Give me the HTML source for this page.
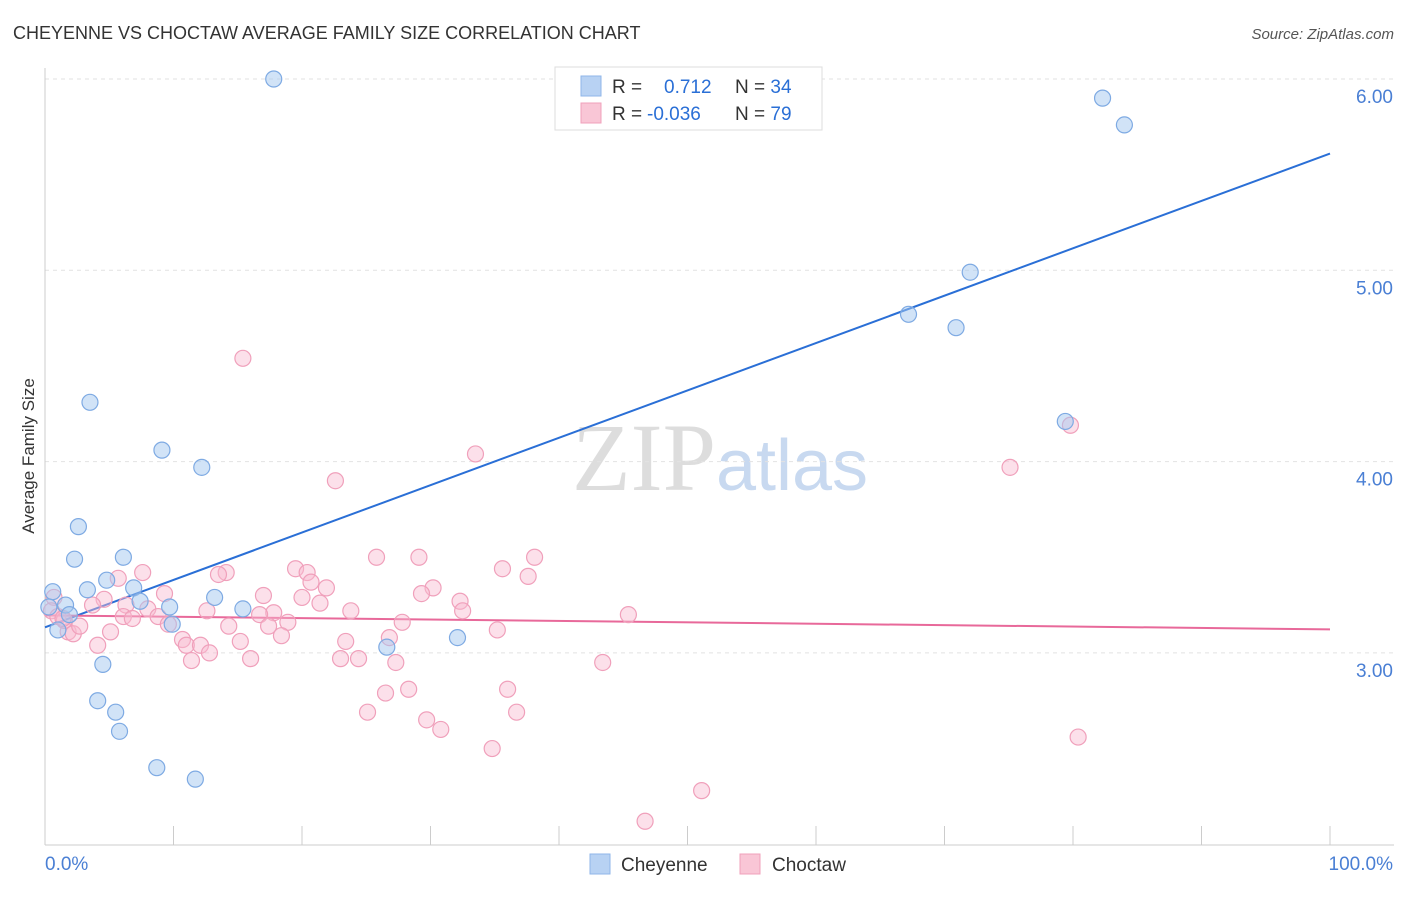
<!DOCTYPE html>
<html><head><meta charset="utf-8"><style>
body{margin:0;background:#fff;font-family:"Liberation Sans",sans-serif;}
</style></head><body>
<svg id="chart" width="1406" height="892" xmlns="http://www.w3.org/2000/svg" font-family="Liberation Sans, sans-serif">
<text x="13" y="39" font-size="18" fill="#333">CHEYENNE VS CHOCTAW AVERAGE FAMILY SIZE CORRELATION CHART</text>
<text x="1394" y="39" font-size="15" fill="#555" text-anchor="end" font-style="italic">Source: ZipAtlas.com</text>
<text x="720" y="490" font-size="96" text-anchor="middle" fill="#ddd" font-family="Liberation Serif, serif">ZIP<tspan fill="#c8d9f0" font-family="Liberation Sans, sans-serif" font-size="72">atlas</tspan></text>
<g id="grid"></g><g id="axes"></g><g id="lines"></g><g id="points"></g>
<text transform="translate(34,456) rotate(-90)" font-size="17" fill="#333" text-anchor="middle">Average Family Size</text>
<g>
<rect x="555" y="67" width="267" height="63" fill="#fff" stroke="#ddd"/>
<rect x="581" y="76" width="20" height="20" fill="#b8d2f3" stroke="#8fb6e8"/>
<rect x="581" y="103" width="20" height="20" fill="#f9c6d6" stroke="#f0a0bb"/>
<text x="612" y="93" font-size="19" fill="#333">R = <tspan fill="#2a6fd6" x="664">0.712</tspan><tspan x="735" fill="#333">N = </tspan><tspan fill="#2a6fd6">34</tspan></text>
<text x="612" y="120" font-size="19" fill="#333">R = <tspan fill="#2a6fd6" x="647">-0.036</tspan><tspan x="735" fill="#333">N = </tspan><tspan fill="#2a6fd6">79</tspan></text>
</g>
<g>
<rect x="590" y="854" width="20" height="20" fill="#b8d2f3" stroke="#8fb6e8"/>
<text x="621" y="871" font-size="19" fill="#333">Cheyenne</text>
<rect x="740" y="854" width="20" height="20" fill="#f9c6d6" stroke="#f0a0bb"/>
<text x="772" y="871" font-size="19" fill="#333">Choctaw</text>
</g>
</svg>
<script>
const yTicks=[3,4,5,6];
const yTickLabels=["3.00","4.00","5.00","6.00"];
const xTickLabels=["0.0%","100.0%"];
const cheyenneX=[17.8,82.3,84.0,72.0,67.2,70.9,79.4,3.5,9.1,12.2,2.6,2.3,6.1,0.6,3.3,4.8,6.9,7.4,9.7,13.2,15.4,1.6,1.9,1.0,0.3,9.9,26.6,32.1,4.5,4.1,5.5,5.8,8.7,11.7];
const cheyenneY=[6.00,5.90,5.76,4.99,4.77,4.70,4.21,4.31,4.06,3.97,3.66,3.49,3.50,3.32,3.33,3.38,3.34,3.27,3.24,3.29,3.23,3.25,3.20,3.12,3.24,3.15,3.03,3.08,2.94,2.75,2.69,2.59,2.40,2.34];
const choctawX=[15.4,33.5,22.6,79.8,75.1,25.8,29.1,38.1,35.6,37.6,19.5,20.4,14.1,13.5,7.6,5.7,20.7,21.9,30.2,29.3,17.0,20.0,9.3,4.6,3.7,0.7,0.5,21.4,23.8,32.3,32.5,45.4,12.6,17.8,6.3,6.1,8.0,6.8,8.8,9.6,14.3,16.7,18.9,27.8,17.4,35.2,5.1,1.8,2.2,2.7,1.0,18.4,26.8,23.4,10.7,11.0,12.1,15.2,4.1,12.8,11.4,16.0,23.0,24.4,27.3,43.4,28.3,26.5,36.0,25.1,29.7,36.7,30.8,34.8,80.4,51.1,46.7,1.5,1.4];
const choctawY=[4.54,4.04,3.90,4.19,3.97,3.50,3.50,3.50,3.44,3.40,3.44,3.42,3.42,3.41,3.42,3.39,3.37,3.34,3.34,3.31,3.30,3.29,3.31,3.28,3.25,3.29,3.22,3.26,3.22,3.27,3.22,3.20,3.22,3.21,3.25,3.19,3.23,3.18,3.19,3.15,3.14,3.20,3.16,3.16,3.14,3.12,3.11,3.11,3.10,3.14,3.19,3.09,3.08,3.06,3.07,3.04,3.04,3.06,3.04,3.00,2.96,2.97,2.97,2.97,2.95,2.95,2.81,2.79,2.81,2.69,2.65,2.69,2.60,2.50,2.56,2.28,2.12,3.17,3.18];
const NS="http://www.w3.org/2000/svg";
const X0=45,X1=1330,Y6=79,PU=191.3;
function sx(v){return X0+(X1-X0)*v/100;}
function sy(v){return Y6+(6-v)*PU;}
function mk(t,a,p){const e=document.createElementNS(NS,t);for(const k in a)e.setAttribute(k,a[k]);p.appendChild(e);return e;}
const grid=document.getElementById('grid'),axes=document.getElementById('axes'),lines=document.getElementById('lines'),pts=document.getElementById('points');
yTicks.forEach((t,i)=>{
 const g=mk('line',{x1:X0,x2:1394,y1:sy(t),y2:sy(t),stroke:'#e2e2e2','stroke-dasharray':'4,4'},grid);
 
 
 const l=mk('text',{x:1393,y:sy(t)+24,'font-size':19,fill:'#4a7fd4','text-anchor':'end'},axes);
 l.textContent=yTickLabels[i];
 
 
});
const topLine=mk('line',{x1:X0,x2:1394,y1:Y6,y2:Y6,stroke:'#e2e2e2','stroke-dasharray':'4,4'},grid);


mk('line',{x1:X0,x2:X0,y1:68,y2:845,stroke:'#ccc'},axes);
mk('line',{x1:X0,x2:1394,y1:845,y2:845,stroke:'#ccc'},axes);
for(let i=0;i<=10;i++){const tk=mk('line',{x1:sx(i*10),x2:sx(i*10),y1:826,y2:845,stroke:'#ccc'},axes);
 
 }
const xl0=mk('text',{x:45,y:870,'font-size':19,fill:'#4a7fd4'},axes);xl0.textContent=xTickLabels[0];


const xl1=mk('text',{x:1393,y:870,'font-size':19,fill:'#4a7fd4','text-anchor':'end'},axes);xl1.textContent=xTickLabels[1];


function fit(xs,ys){const n=xs.length;let mx=0,my=0;for(let i=0;i<n;i++){mx+=xs[i];my+=ys[i];}mx/=n;my/=n;let a=0,b=0;for(let i=0;i<n;i++){a+=(xs[i]-mx)*(ys[i]-my);b+=(xs[i]-mx)**2;}const s=a/b;return [my-s*mx,s];}
function trend(xs,ys,c,name){const [b,s]=fit(xs,ys);const l=mk('line',{x1:sx(0),y1:sy(b),x2:sx(100),y2:sy(b+100*s),stroke:c,'stroke-width':2},lines);
 
 }
trend(cheyenneX,cheyenneY,'#2a6fd6','cheyenne-trend-line');
trend(choctawX,choctawY,'#e8699a','choctaw-trend-line');
choctawX.forEach((x,i)=>{const c=mk('circle',{cx:sx(x),cy:sy(choctawY[i]),r:8,fill:'rgba(248,187,208,0.45)',stroke:'#f0a0bb','stroke-width':1.2},pts);
 
 });
cheyenneX.forEach((x,i)=>{const c=mk('circle',{cx:sx(x),cy:sy(cheyenneY[i]),r:8,fill:'rgba(164,199,240,0.5)',stroke:'#7eaae3','stroke-width':1.2},pts);
 
 });
</script>
</body></html>
